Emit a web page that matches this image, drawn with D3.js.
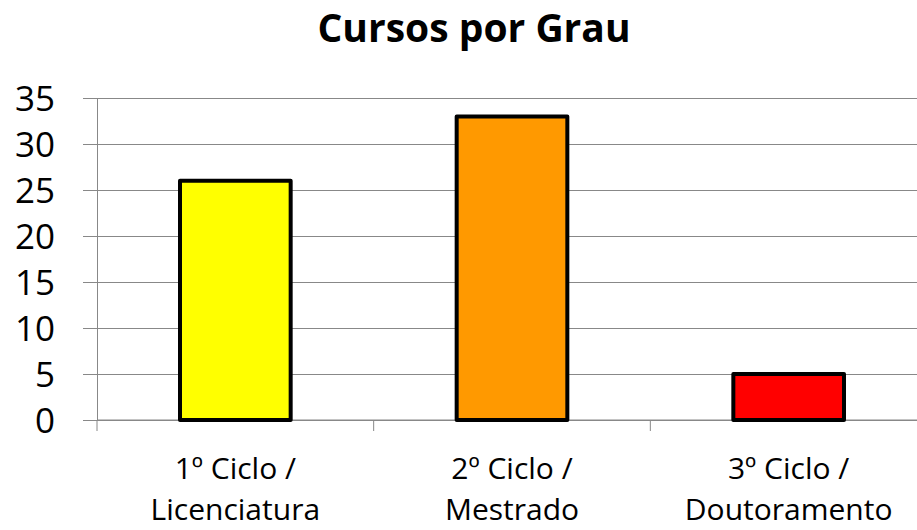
<!DOCTYPE html>
<html>
<head>
<meta charset="utf-8">
<script src="https://cdn.jsdelivr.net/npm/d3@7"></script>
<style>
  body { margin: 0; background: #fff; }
  text { font-family: "Open Sans", sans-serif; fill: #000; }
</style>
</head>
<body>
<svg id="chart"></svg>
<script>
var width = 917;
var height = 530;

var categories = [["1º Ciclo /", "Licenciatura"], ["2º Ciclo /", "Mestrado"], ["3º Ciclo /", "Doutoramento"]];
var values = [26, 33, 5];
var colors = ["#ffff00", "#ff9900", "#ff0000"];
var yTicks = [0, 5, 10, 15, 20, 25, 30, 35];

var plotLeft = 97, plotRight = 927, plotTop = 98, plotBottom = 420;

var xScale = d3.scaleBand()
               .domain(d3.range(categories.length))
               .range([plotLeft, plotRight])
               .paddingInner(0.6)
               .paddingOuter(0.3);

var yScale = d3.scaleLinear()
               .domain([0, 35])
               .range([plotBottom, plotTop]);

var svg = d3.select("#chart")
            .attr("width", width)
            .attr("height", height);

svg.append("text")
    .attr("x", 474)
    .attr("y", 42)
    .attr("text-anchor", "middle")
    .style("font-size", "39px")
    .style("font-weight", "bold")
    .text("Cursos por Grau");

// gridlines
svg.append("g")
    .attr("transform", "translate(" + plotLeft + ",0)")
    .call(d3.axisLeft(yScale)
            .tickValues(yTicks)
            .tickSize(-(plotRight - plotLeft))
            .tickPadding(42)
            .tickSizeOuter(0))
    .call(g => g.select(".domain").attr("stroke", "#888"))
    .call(g => g.selectAll(".tick line").attr("stroke", "#888").attr("x1", -14))
    .call(g => g.selectAll(".tick text").style("font-size", "35px").attr("dy", "0.36em"));

// x axis with category boundary ticks
var boundaries = d3.range(categories.length + 1).map(i => plotLeft + i * (plotRight - plotLeft) / categories.length);
svg.append("line")
    .attr("x1", plotLeft).attr("x2", plotRight)
    .attr("y1", plotBottom).attr("y2", plotBottom)
    .attr("stroke", "#888");
svg.selectAll(".btick")
    .data(boundaries)
    .enter()
    .append("line")
      .attr("x1", d => d).attr("x2", d => d)
      .attr("y1", plotBottom).attr("y2", plotBottom + 11)
      .attr("stroke", "#888");

svg.selectAll(".bar")
    .data(values)
    .enter()
    .append("rect")
      .attr("x", (d, i) => xScale(i))
      .attr("y", d => yScale(d))
      .attr("width", xScale.bandwidth())
      .attr("height", d => plotBottom - yScale(d))
      .attr("fill", (d, i) => colors[i])
      .attr("stroke", "#000")
      .attr("stroke-width", 4)
      .attr("stroke-linejoin", "round");

var labels = svg.selectAll(".xlabel")
    .data(categories)
    .enter()
    .append("text")
      .attr("text-anchor", "middle")
      .style("font-size", "30px");

labels.append("tspan")
    .attr("x", (d, i) => xScale(i) + xScale.bandwidth() / 2)
    .attr("y", 479)
    .text(d => d[0]);
labels.append("tspan")
    .attr("x", (d, i) => xScale(i) + xScale.bandwidth() / 2)
    .attr("y", 520)
    .text(d => d[1]);
</script>
</body>
</html>
